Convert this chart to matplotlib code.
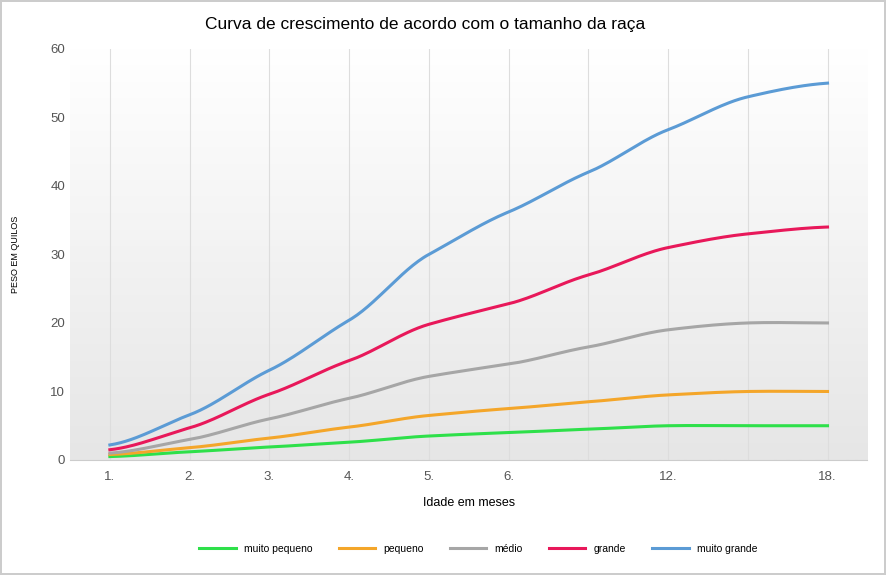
import numpy as np
import matplotlib
matplotlib.use("Agg")
import matplotlib.pyplot as plt
plt.rcParams["font.family"] = "Liberation Sans"

months = ["1.", "2.", "3.", "4.", "5.", "6.", "", "12.", "", "18."]
muito_pequeno = [0.5, 1.2, 1.9, 2.6, 3.5, 4.0, 4.5, 5.0, 5.0, 5.0]
pequeno = [0.8, 1.8, 3.2, 4.8, 6.5, 7.5, 8.5, 9.5, 10.0, 10.0]
medio = [1.0, 3.0, 6.0, 9.0, 12.2, 14.0, 16.5, 19.0, 20.0, 20.0]
grande = [1.5, 4.7, 9.6, 14.5, 19.8, 22.8, 27.0, 31.0, 33.0, 34.0]
muito_grande = [2.2, 6.6, 13.1, 20.4, 30.0, 36.2, 42.0, 48.2, 53.0, 55.0]
series = [("muito pequeno", muito_pequeno, "#2ee04a"),
          ("pequeno", pequeno, "#f4a62a"),
          ("médio", medio, "#a6a6a6"),
          ("grande", grande, "#e8185a"),
          ("muito grande", muito_grande, "#5b9bd5")]

def smooth(y, n=30):
    y = np.asarray(y, float)
    x = np.arange(len(y))
    p = np.concatenate([[y[0]], y, [y[-1]]])
    xs, ys = [], []
    for i in range(len(y) - 1):
        p0, p1, p2, p3 = p[i], p[i+1], p[i+2], p[i+3]
        t = np.linspace(0, 1, n, endpoint=False)
        m1 = (p2 - p0) / 2 * 0.8
        m2 = (p3 - p1) / 2 * 0.8
        h00 = 2*t**3 - 3*t**2 + 1; h10 = t**3 - 2*t**2 + t
        h01 = -2*t**3 + 3*t**2; h11 = t**3 - t**2
        xs.append(x[i] + t)
        ys.append(h00*p1 + h10*m1 + h01*p2 + h11*m2)
    xs.append([x[-1]]); ys.append([y[-1]])
    return np.concatenate(xs), np.concatenate(ys)

fig = plt.figure(figsize=(8.86, 5.75), dpi=100)
fig.patch.set_edgecolor("#cccccc"); fig.patch.set_linewidth(1.5)
ax = fig.add_axes([0.079, 0.2, 0.900, 0.715])
ax.set_xlim(-0.5, 9.5); ax.set_ylim(0, 60)
grad = np.linspace(0, 1, 256).reshape(-1, 1)
ax.imshow(grad, extent=[-0.5, 9.5, 0, 60], aspect="auto", cmap=plt.matplotlib.colors.LinearSegmentedColormap.from_list("g", ["#e6e6e6", "#ffffff"]), origin="lower", zorder=0)
for i in range(len(months)):
    ax.axvline(i, color="#dddddd", lw=0.8, zorder=1)
for name, vals, c in series:
    xs, ys = smooth(vals)
    ax.plot(xs, ys, color=c, lw=2.2, label=name, zorder=3)
ax.set_xticks(range(len(months))); ax.set_xticklabels(months, fontsize=9.5, color="#555555")
ax.set_yticks(range(0, 61, 10))
ax.tick_params(axis="y", labelsize=9.5, colors="#555555", length=0)
ax.tick_params(axis="x", length=0, pad=8)
for s in ["top", "right", "left"]:
    ax.spines[s].set_visible(False)
ax.spines["bottom"].set_color("#cccccc")
ax.set_xlabel("Idade em meses", fontsize=9, labelpad=10)
ax.set_ylabel("PESO EM QUILOS", fontsize=6.5, labelpad=22)
fig.text(0.48, 0.95, "Curva de crescimento de acordo com o tamanho da raça", ha="center", fontsize=12.5)
fig.legend(loc="lower center", bbox_to_anchor=(0.54, 0.02), ncol=5, frameon=False, fontsize=7.5, handlelength=3.5, columnspacing=2.5)
fig.savefig("out.png", dpi=100)
